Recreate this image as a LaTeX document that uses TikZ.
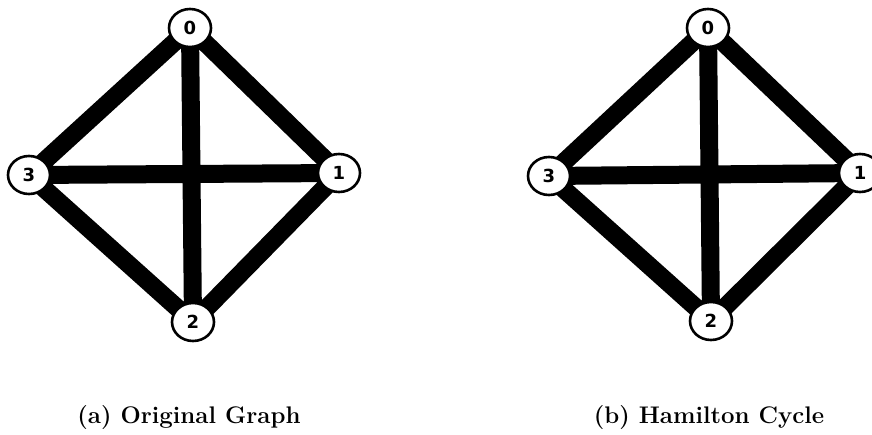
\documentclass[tikz,border=0pt]{standalone}
\usepackage{fontspec}
\newfontfamily\nodefont{DejaVu Sans}
\usetikzlibrary{shapes.geometric}
\tikzset{
  vtx/.style={ellipse, draw=black, line width=1.3pt, fill=white, minimum width=21pt, minimum height=19pt, inner sep=0pt, font=\nodefont\bfseries\fontsize{9}{10}\selectfont},
  gedge/.style={line width=9pt, black},
  captxt/.style={font=\bfseries\fontsize{12}{14}\selectfont, anchor=base}
}
\begin{document}
\begin{tikzpicture}[x=0.5pt,y=-0.5pt]
\useasboundingbox (0,0) rectangle (872,434);
% left graph
\coordinate (a0c) at (190,28);
\coordinate (a1c) at (339,173);
\coordinate (a2c) at (193,322);
\coordinate (a3c) at (29,175);
\draw[gedge] (a0c) -- (a1c) (a1c) -- (a2c) (a2c) -- (a3c) (a3c) -- (a0c) (a0c) -- (a2c) (a3c) -- (a1c);
\node[vtx] (a0) at (a0c) {0};
\node[vtx] (a1) at (a1c) {1};
\node[vtx] (a2) at (a2c) {2};
\node[vtx] (a3) at (a3c) {3};
% right graph
\coordinate (b0c) at (708,28);
\coordinate (b1c) at (860,173);
\coordinate (b2c) at (711,321);
\coordinate (b3c) at (549,176);
\draw[gedge] (b0c) -- (b1c) (b1c) -- (b2c) (b2c) -- (b3c) (b3c) -- (b0c) (b0c) -- (b2c) (b3c) -- (b1c);
\node[vtx] (b0) at (b0c) {0};
\node[vtx] (b1) at (b1c) {1};
\node[vtx] (b2) at (b2c) {2};
\node[vtx] (b3) at (b3c) {3};
% captions
\node[captxt] (capa) at (189,423) {(a) Original Graph};
\node[captxt] (capb) at (709,423) {(b) Hamilton Cycle};
\end{tikzpicture}
\end{document}
